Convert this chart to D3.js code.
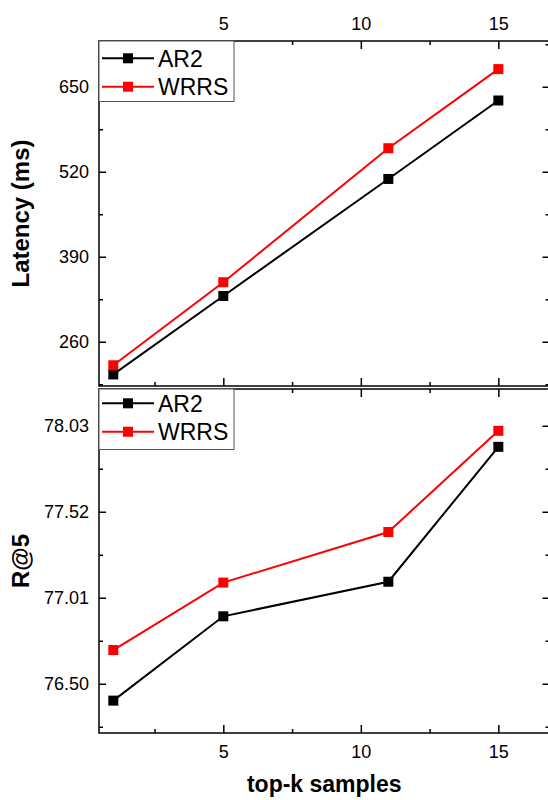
<!DOCTYPE html>
<html><head><meta charset="utf-8">
<script src="https://cdn.jsdelivr.net/npm/d3@7"></script>
<style>body{margin:0;background:#fff}svg{display:block}</style>
</head><body><svg id="c" width="548" height="800"></svg>
<script>
const topK = [1, 5, 11, 15];
const seriesNames = ['AR2', 'WRRS'];
const seriesColors = ['#000000', '#ff0000'];
const latencyAR2 = [210, 330, 509, 629];
const latencyWRRS = [224, 351, 556, 677];
const recallAR2 = [76.40, 76.90, 77.105, 77.905];
const recallWRRS = [76.70, 77.10, 77.40, 78.00];
const xTicks = [5, 10, 15];
const xMinorTicks = [2.5, 7.5, 12.5];
const latencyTicks = [260, 390, 520, 650];
const latencyMinorTicks = [195, 325, 455, 585, 715];
const recallTicks = [76.50, 77.01, 77.52, 78.03];
const recallMinorTicks = [76.245, 76.755, 77.265, 77.775];
const xTitle = 'top-k samples';
const latencyTitle = 'Latency (ms)';
const recallTitle = 'R@5';

const svg = d3.select('#c');
const FONT = '"Liberation Sans", Arial, sans-serif';
const left = 99, right = 549.5;
const x = d3.scaleLinear().domain([0.48, 16.86]).range([left, right]);

function panel(cfg) {
  const {y0, y1, domain, ticks, minor, fmt, title, seriesA, seriesB, legendTop, legendRows, showTop, showBottom} = cfg;
  const y = d3.scaleLinear().domain(domain).range([y1, y0]);
  const g = svg.append('g');
  const styleAxis = sel => {
    sel.select('.domain').remove();
    sel.selectAll('line').attr('stroke', '#000').attr('stroke-width', 1.5);
    sel.selectAll('text').attr('font-family', FONT).attr('font-size', 18).attr('fill', '#000');
  };
  g.append('g').attr('transform', `translate(${left},0)`)
    .call(d3.axisLeft(y).tickValues(ticks).tickFormat(fmt).tickSizeInner(-7).tickSizeOuter(0).tickPadding(10)).call(styleAxis);
  g.append('g').attr('transform', `translate(${left},0)`)
    .call(d3.axisLeft(y).tickValues(minor).tickFormat('').tickSizeInner(-4).tickSizeOuter(0)).call(styleAxis);
  g.append('g').attr('transform', `translate(${right},0)`)
    .call(d3.axisRight(y).tickValues(ticks).tickFormat('').tickSizeInner(-7).tickSizeOuter(0)).call(styleAxis);
  g.append('g').attr('transform', `translate(${right},0)`)
    .call(d3.axisRight(y).tickValues(minor).tickFormat('').tickSizeInner(-4).tickSizeOuter(0)).call(styleAxis);
  g.append('g').attr('transform', `translate(0,${y0})`)
    .call(d3.axisTop(x).tickValues(xTicks).tickFormat(showTop ? d3.format('d') : '').tickSizeInner(-8).tickSizeOuter(0).tickPadding(11)).call(styleAxis);
  g.append('g').attr('transform', `translate(0,${y0})`)
    .call(d3.axisTop(x).tickValues(xMinorTicks).tickFormat('').tickSizeInner(-4).tickSizeOuter(0)).call(styleAxis);
  g.append('g').attr('transform', `translate(0,${y1})`)
    .call(d3.axisBottom(x).tickValues(xTicks).tickFormat(showBottom ? d3.format('d') : '').tickSizeInner(-8).tickSizeOuter(0).tickPadding(12)).call(styleAxis);
  g.append('g').attr('transform', `translate(0,${y1})`)
    .call(d3.axisBottom(x).tickValues(xMinorTicks).tickFormat('').tickSizeInner(-4).tickSizeOuter(0)).call(styleAxis);
  g.append('rect').attr('x', left).attr('y', y0).attr('width', right - left).attr('height', y1 - y0)
    .attr('fill', 'none').attr('stroke', '#000').attr('stroke-width', 1.5);
  [seriesA, seriesB].forEach((vals, i) => {
    const pts = topK.map((k, j) => [k, vals[j]]);
    g.append('path').datum(pts)
      .attr('d', d3.line().x(d => x(d[0])).y(d => y(d[1])))
      .attr('fill', 'none').attr('stroke', seriesColors[i]).attr('stroke-width', 2);
    g.selectAll(null).data(pts).enter().append('rect')
      .attr('x', d => x(d[0]) - 5).attr('y', d => y(d[1]) - 5)
      .attr('width', 10).attr('height', 10).attr('fill', seriesColors[i]);
  });
  g.append('text').attr('transform', `translate(28.5,${(y0 + y1) / 2}) rotate(-90)`)
    .attr('text-anchor', 'middle').attr('font-family', FONT).attr('font-weight', 'bold')
    .attr('font-size', 24).attr('fill', '#000').text(title);
  const lg = g.append('g');
  lg.append('rect').attr('x', left).attr('y', legendTop).attr('width', 135).attr('height', 60.5)
    .attr('fill', '#fff').attr('stroke', '#555').attr('stroke-width', 1);
  seriesNames.forEach((name, i) => {
    const cy = legendTop + legendRows[i];
    lg.append('line').attr('x1', 102).attr('x2', 154).attr('y1', cy).attr('y2', cy)
      .attr('stroke', seriesColors[i]).attr('stroke-width', 2);
    lg.append('rect').attr('x', 123).attr('y', cy - 5).attr('width', 10).attr('height', 10).attr('fill', seriesColors[i]);
    lg.append('text').attr('x', 158).attr('y', cy).attr('dy', '0.36em')
      .attr('font-family', FONT).attr('font-size', 23).attr('fill', '#000').text(name);
  });
}

panel({y0: 41, y1: 386, domain: [192.3, 720], ticks: latencyTicks, minor: latencyMinorTicks,
  fmt: d3.format('d'), title: latencyTitle, seriesA: latencyAR2, seriesB: latencyWRRS,
  legendTop: 41, legendRows: [17.3, 45.7], showTop: true, showBottom: false});
panel({y0: 389, y1: 733, domain: [76.208, 78.248], ticks: recallTicks, minor: recallMinorTicks,
  fmt: d3.format('.2f'), title: recallTitle, seriesA: recallAR2, seriesB: recallWRRS,
  legendTop: 389, legendRows: [14.3, 42.7], showTop: false, showBottom: true});

svg.append('text').attr('x', (left + right) / 2).attr('y', 792).attr('text-anchor', 'middle')
  .attr('font-family', FONT).attr('font-weight', 'bold').attr('font-size', 23).attr('fill', '#000').text(xTitle);
</script>
</body></html>
